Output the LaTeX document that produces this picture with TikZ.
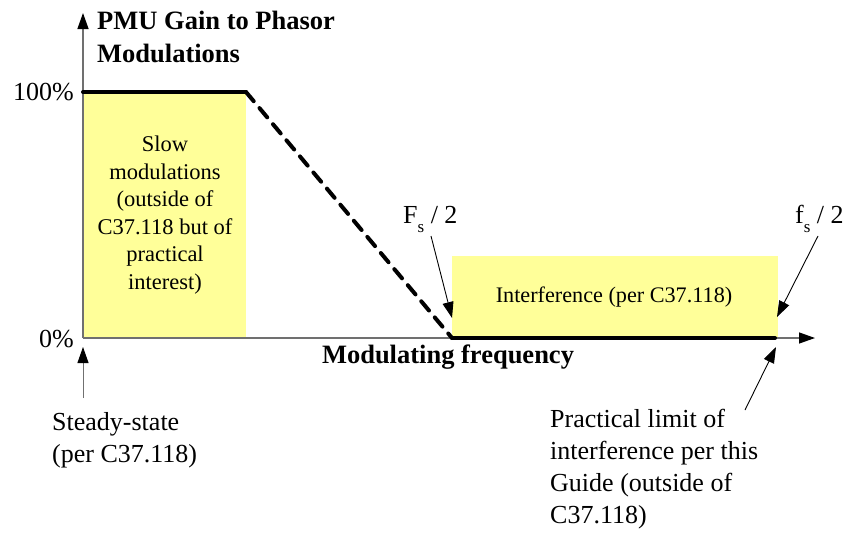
\documentclass[tikz,border=0pt]{standalone}
\usepackage{fontspec}
\setmainfont{Liberation Serif}
\usetikzlibrary{arrows.meta}
\definecolor{paleyellow}{HTML}{FFFF99}
\definecolor{axisgray}{HTML}{707070}
\newcommand{\lowsub}[1]{\raisebox{-0.36em}{\fontsize{17}{17}\selectfont #1}}
\tikzset{
  axisline/.style={draw=axisgray, line width=1.3pt},
  tipline/.style={draw=axisgray, line width=1.3pt, -{Triangle[length=16pt,width=11pt,color=black]}},
  pointer/.style={draw=black, line width=0.9pt, -{Triangle[length=16pt,width=11pt,color=black]}},
  gainline/.style={draw=black, line width=4pt, line cap=round},
  band/.style={fill=paleyellow, draw=none},
  lbl/.style={inner sep=0pt, font=\fontsize{26}{32}\selectfont},
  boldlbl/.style={inner sep=0pt, font=\fontsize{26.5}{33}\selectfont\bfseries},
  boxtext/.style={inner sep=0pt, align=center, font=\fontsize{22.5}{27.5}\selectfont},
}
\begin{document}
\begin{tikzpicture}[x=1pt, y=-1pt]
\useasboundingbox (0,0) rectangle (843,533);

% shaded frequency bands
\fill[band] (83,92) rectangle (246,338);
\fill[band] (452,256) rectangle (778,338);

% axes
\coordinate (origin) at (83,338);
\coordinate (ytop) at (83,13);
\coordinate (xend) at (815,338);
\draw[tipline] (origin) -- (ytop);
\draw[tipline] (origin) -- (xend);

% gain curve
\coordinate (passend) at (246,92);
\coordinate (stopstart) at (452,338);
\coordinate (stopend) at (775,338);
\draw[gainline] (83,92) -- (passend);
\draw[gainline, dash pattern=on 12pt off 9pt] (passend) -- (stopstart);
\draw[gainline] (stopstart) -- (stopend);

% axis labels
\node[boldlbl, anchor=north west, align=left] (title) at (97,11)
  {PMU Gain to Phasor\\Modulations};
\node[lbl, anchor=east] (hundred) at (74,92) {100\%};
\node[lbl, anchor=east] (zero) at (74,339) {0\%};
\node[boldlbl] (xlabel) at (448,357) {Modulating frequency};

% band labels
\node[boxtext] (slow) at (165,215)
  {Slow\\modulations\\(outside of\\C37.118 but of\\practical\\interest)};
\node[inner sep=0pt, font=\fontsize{22.2}{26}\selectfont] (interf) at (614,297)
  {Interference (per C37.118)};

% frequency markers
\node[lbl, anchor=base west] (Fs) at (403,223) {F\lowsub{s} / 2};
\node[lbl, anchor=base west] (fs) at (795,223) {f\lowsub{s} / 2};
\coordinate (Fsfrom) at (431,236);
\coordinate (Fsto) at (452,318);
\coordinate (fsfrom) at (818,236);
\coordinate (fsto) at (777,317);
\draw[pointer] (Fsfrom) -- (Fsto);
\draw[pointer] (fsfrom) -- (fsto);

% annotations below the axis
\node[lbl, anchor=west, align=left] (steady) at (52,440)
  {Steady-state\\(per C37.118)};
\coordinate (steadyfrom) at (83,398);
\coordinate (steadyto) at (83,347);
\draw[pointer, draw=axisgray] (steadyfrom) -- (steadyto);

\node[lbl, anchor=west, align=left] (limit) at (550,469)
  {Practical limit of\\interference per this\\Guide (outside of\\C37.118)};
\coordinate (limitfrom) at (745,410);
\coordinate (limitto) at (776,347);
\draw[pointer] (limitfrom) -- (limitto);
\end{tikzpicture}
\end{document}
